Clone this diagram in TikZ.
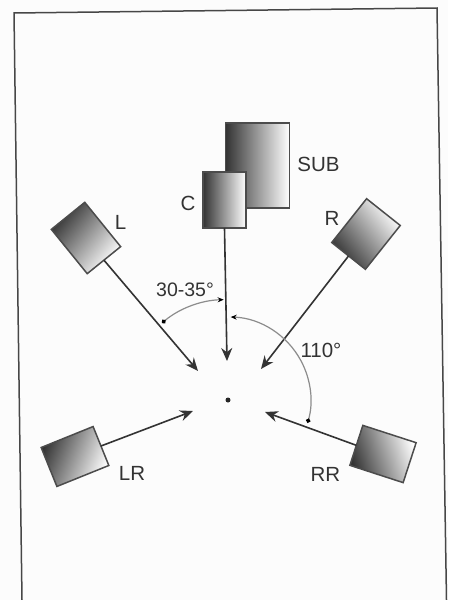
\documentclass[tikz,border=0pt]{standalone}
\usepackage{fontspec}
\setmainfont{Liberation Sans}
\usetikzlibrary{arrows.meta}
\tikzset{
  spk/.style={draw=black!70,line width=1.5pt,rectangle,inner sep=0pt,outer sep=0pt,left color=black!80,right color=white,shading angle=#1},
  conn/.style={draw=black!80,line width=1.6pt,-{Stealth[length=13pt,width=11pt]}},
  arcl/.style={draw=black!45,line width=1.2pt},
  lab/.style={font=\fontsize{20.5}{20.5}\selectfont,text=black!80,inner sep=0pt},
}
\begin{document}
\begin{tikzpicture}[x=1pt,y=-1pt]
\useasboundingbox (0,0) rectangle (448,600);
\fill[black!1] (0,0) rectangle (448,600);
% frame
\coordinate (f1) at (14,13);
\coordinate (f2) at (437,8);
\coordinate (f3) at (446.5,600);
\coordinate (f4) at (22,600);
\draw[black!72,line width=1.5pt] (f4) -- (f1) -- (f2) -- (f3);
% speakers
\node[spk=90,minimum width=64pt,minimum height=85pt] (SUB) at (257.5,165.5) {};
\node[spk=90,minimum width=43pt,minimum height=56pt] (C) at (224.5,200) {};
\node[spk=51,minimum width=43pt,minimum height=57pt,rotate=39] (L) at (86,238) {};
\node[spk=128,minimum width=43pt,minimum height=56pt,rotate=-38.5] (R) at (366,234) {};
\node[spk=68,minimum width=56pt,minimum height=42pt,rotate=22] (LR) at (75,456.5) {};
\node[spk=108,minimum width=56pt,minimum height=42pt,rotate=-18] (RR) at (383,454) {};
% free ends
\coordinate (tL) at (198,371);
\coordinate (tC) at (227,361);
\coordinate (tR) at (261,369);
\coordinate (tLR) at (193,411);
\coordinate (tRR) at (265,412);
\draw[conn] (L.south) -- (tL);
\draw[conn] (C.south) -- (tC);
\draw[conn] (R.south) -- (tR);
\draw[conn] (LR.east) -- (tLR);
\draw[conn] (RR.west) -- (tRR);
% listener
\node[circle,fill=black!85,minimum size=5pt,inner sep=0pt] (P) at (228,400) {};
% angle arcs
\coordinate (a1) at (162,323);
\coordinate (a2) at (230.7,317);
\draw[arcl,{Circle[length=4.5pt,black]}-{Stealth[length=6pt,width=5pt,black]}] (a1) arc[start angle=-130,end angle=-91.5,radius=100];
\draw[arcl,{Stealth[length=6pt,width=5pt,black]}-{Circle[length=4.5pt,black]}] (a2) arc[start angle=-88,end angle=16,radius=83];
% labels
\node[lab] (tSUB) at (318.5,164) {SUB};
\node[lab] (tC) at (188,203) {C};
\node[lab] (tLl) at (120.5,222) {L};
\node[lab] (tRl) at (332,218) {R};
\node[lab] (tLRl) at (132,473.5) {LR};
\node[lab] (tRRl) at (325.5,474) {RR};
\node[lab,font=\fontsize{19.5}{19.5}\selectfont] (t30) at (185,290) {30-35°};
\node[lab] (t110) at (321,350) {110°};
\end{tikzpicture}
\end{document}
